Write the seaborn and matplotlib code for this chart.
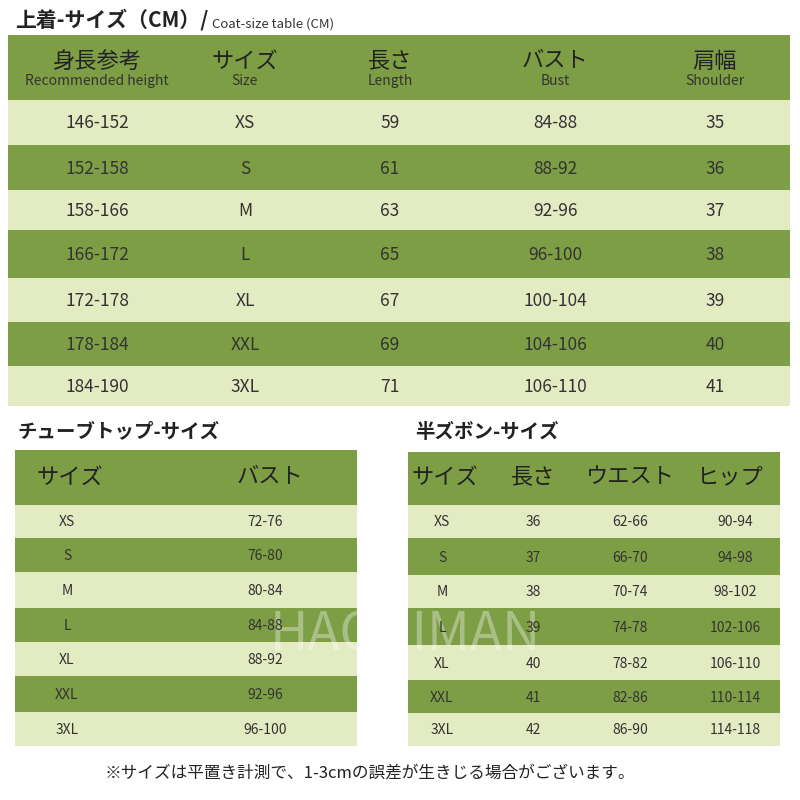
import matplotlib
matplotlib.use("Agg")
import matplotlib.pyplot as plt
from matplotlib.patches import Rectangle
import seaborn as sns

sns.set_theme(style="white")
plt.rcParams["font.family"] = ["Noto Sans CJK JP", "DejaVu Sans"]

# Data
coat_heights = ["146-152", "152-158", "158-166", "166-172", "172-178", "178-184", "184-190"]
coat_sizes = ["XS", "S", "M", "L", "XL", "XXL", "3XL"]
coat_length = [59, 61, 63, 65, 67, 69, 71]
coat_bust = ["84-88", "88-92", "92-96", "96-100", "100-104", "104-106", "106-110"]
coat_shoulder = [35, 36, 37, 38, 39, 40, 41]
coat_headers = [("身長参考", "Recommended height"), ("サイズ", "Size"), ("長さ", "Length"),
                ("バスト", "Bust"), ("肩幅", "Shoulder")]

tube_sizes = ["XS", "S", "M", "L", "XL", "XXL", "3XL"]
tube_bust = ["72-76", "76-80", "80-84", "84-88", "88-92", "92-96", "96-100"]
tube_headers = ["サイズ", "バスト"]

short_sizes = ["XS", "S", "M", "L", "XL", "XXL", "3XL"]
short_length = [36, 37, 38, 39, 40, 41, 42]
short_waist = ["62-66", "66-70", "70-74", "74-78", "78-82", "82-86", "86-90"]
short_hip = ["90-94", "94-98", "98-102", "102-106", "106-110", "110-114", "114-118"]
short_headers = ["サイズ", "長さ", "ウエスト", "ヒップ"]

DARK = "#7d9e45"
LIGHT = "#e3ebc3"
TXT = "#333333"

fig = plt.figure(figsize=(8, 8), dpi=100)
ax = fig.add_axes([0, 0, 1, 1])
ax.set_xlim(0, 800)
ax.set_ylim(800, 0)
ax.axis("off")

def table(x0, x1, head_top, head_bot, row_edges, col_x, header_fn, rows, fs):
    ax.add_patch(Rectangle((x0, head_top), x1 - x0, head_bot - head_top, color=DARK, lw=0))
    header_fn()
    for i, (a, b) in enumerate(zip(row_edges[:-1], row_edges[1:])):
        ax.add_patch(Rectangle((x0, a), x1 - x0, b - a, color=LIGHT if i % 2 == 0 else DARK, lw=0))
        for cx, val in zip(col_x, rows[i]):
            ax.text(cx, (a + b) / 2 + 1, str(val), ha="center", va="center", fontsize=fs,
                    color=TXT, zorder=5)

# Title
ax.text(15, 20, "上着-サイズ（CM）/", fontsize=15, fontweight="bold", va="center", color="#222")
ax.text(212, 24, "Coat-size table (CM)", fontsize=9.5, va="center", color="#333")

coat_cols = [97, 245, 390, 555, 715]
def coat_head():
    for cx, (jp, en) in zip(coat_cols, coat_headers):
        ax.text(cx, 61, jp, ha="center", va="center", fontsize=16, color="#222")
        ax.text(cx, 81, en, ha="center", va="center", fontsize=10, color="#333")
coat_rows = list(zip(coat_heights, coat_sizes, coat_length, coat_bust, coat_shoulder))
table(8, 790, 35, 100, [100, 145, 190, 230, 278, 322, 366, 406], coat_cols, coat_head, coat_rows, 12.5)

# Tube top
ax.text(18, 432, "チューブトップ-サイズ", fontsize=14, fontweight="bold", va="center", color="#222")
tube_cols = [67, 265]
def tube_head():
    for cx, h in zip([70, 270], tube_headers):
        ax.text(cx, 477, h, ha="center", va="center", fontsize=16, color="#222")
table(15, 357, 450, 505, [505, 538, 572, 608, 642, 676, 712, 746], tube_cols, tube_head,
      list(zip(tube_sizes, tube_bust)), 10)

# Shorts
ax.text(415, 432, "半ズボン-サイズ", fontsize=14, fontweight="bold", va="center", color="#222")
short_cols = [442, 533, 630, 735]
def short_head():
    for cx, h in zip([445, 533, 630, 730], short_headers):
        ax.text(cx, 477, h, ha="center", va="center", fontsize=16, color="#222")
table(408, 780, 452, 505, [505, 538, 575, 608, 645, 680, 713, 746], short_cols, short_head,
      list(zip(short_sizes, short_length, short_waist, short_hip)), 10)

ax.text(405, 635, "HACHIMAN", ha="center", va="center", fontsize=38, color="white",
        alpha=0.35, zorder=2)

ax.text(370, 773, "※サイズは平置き計測で、1-3cmの誤差が生きじる場合がございます。",
        ha="center", va="center", fontsize=12, color="#222")

fig.savefig("out.png", dpi=100, facecolor="white")
